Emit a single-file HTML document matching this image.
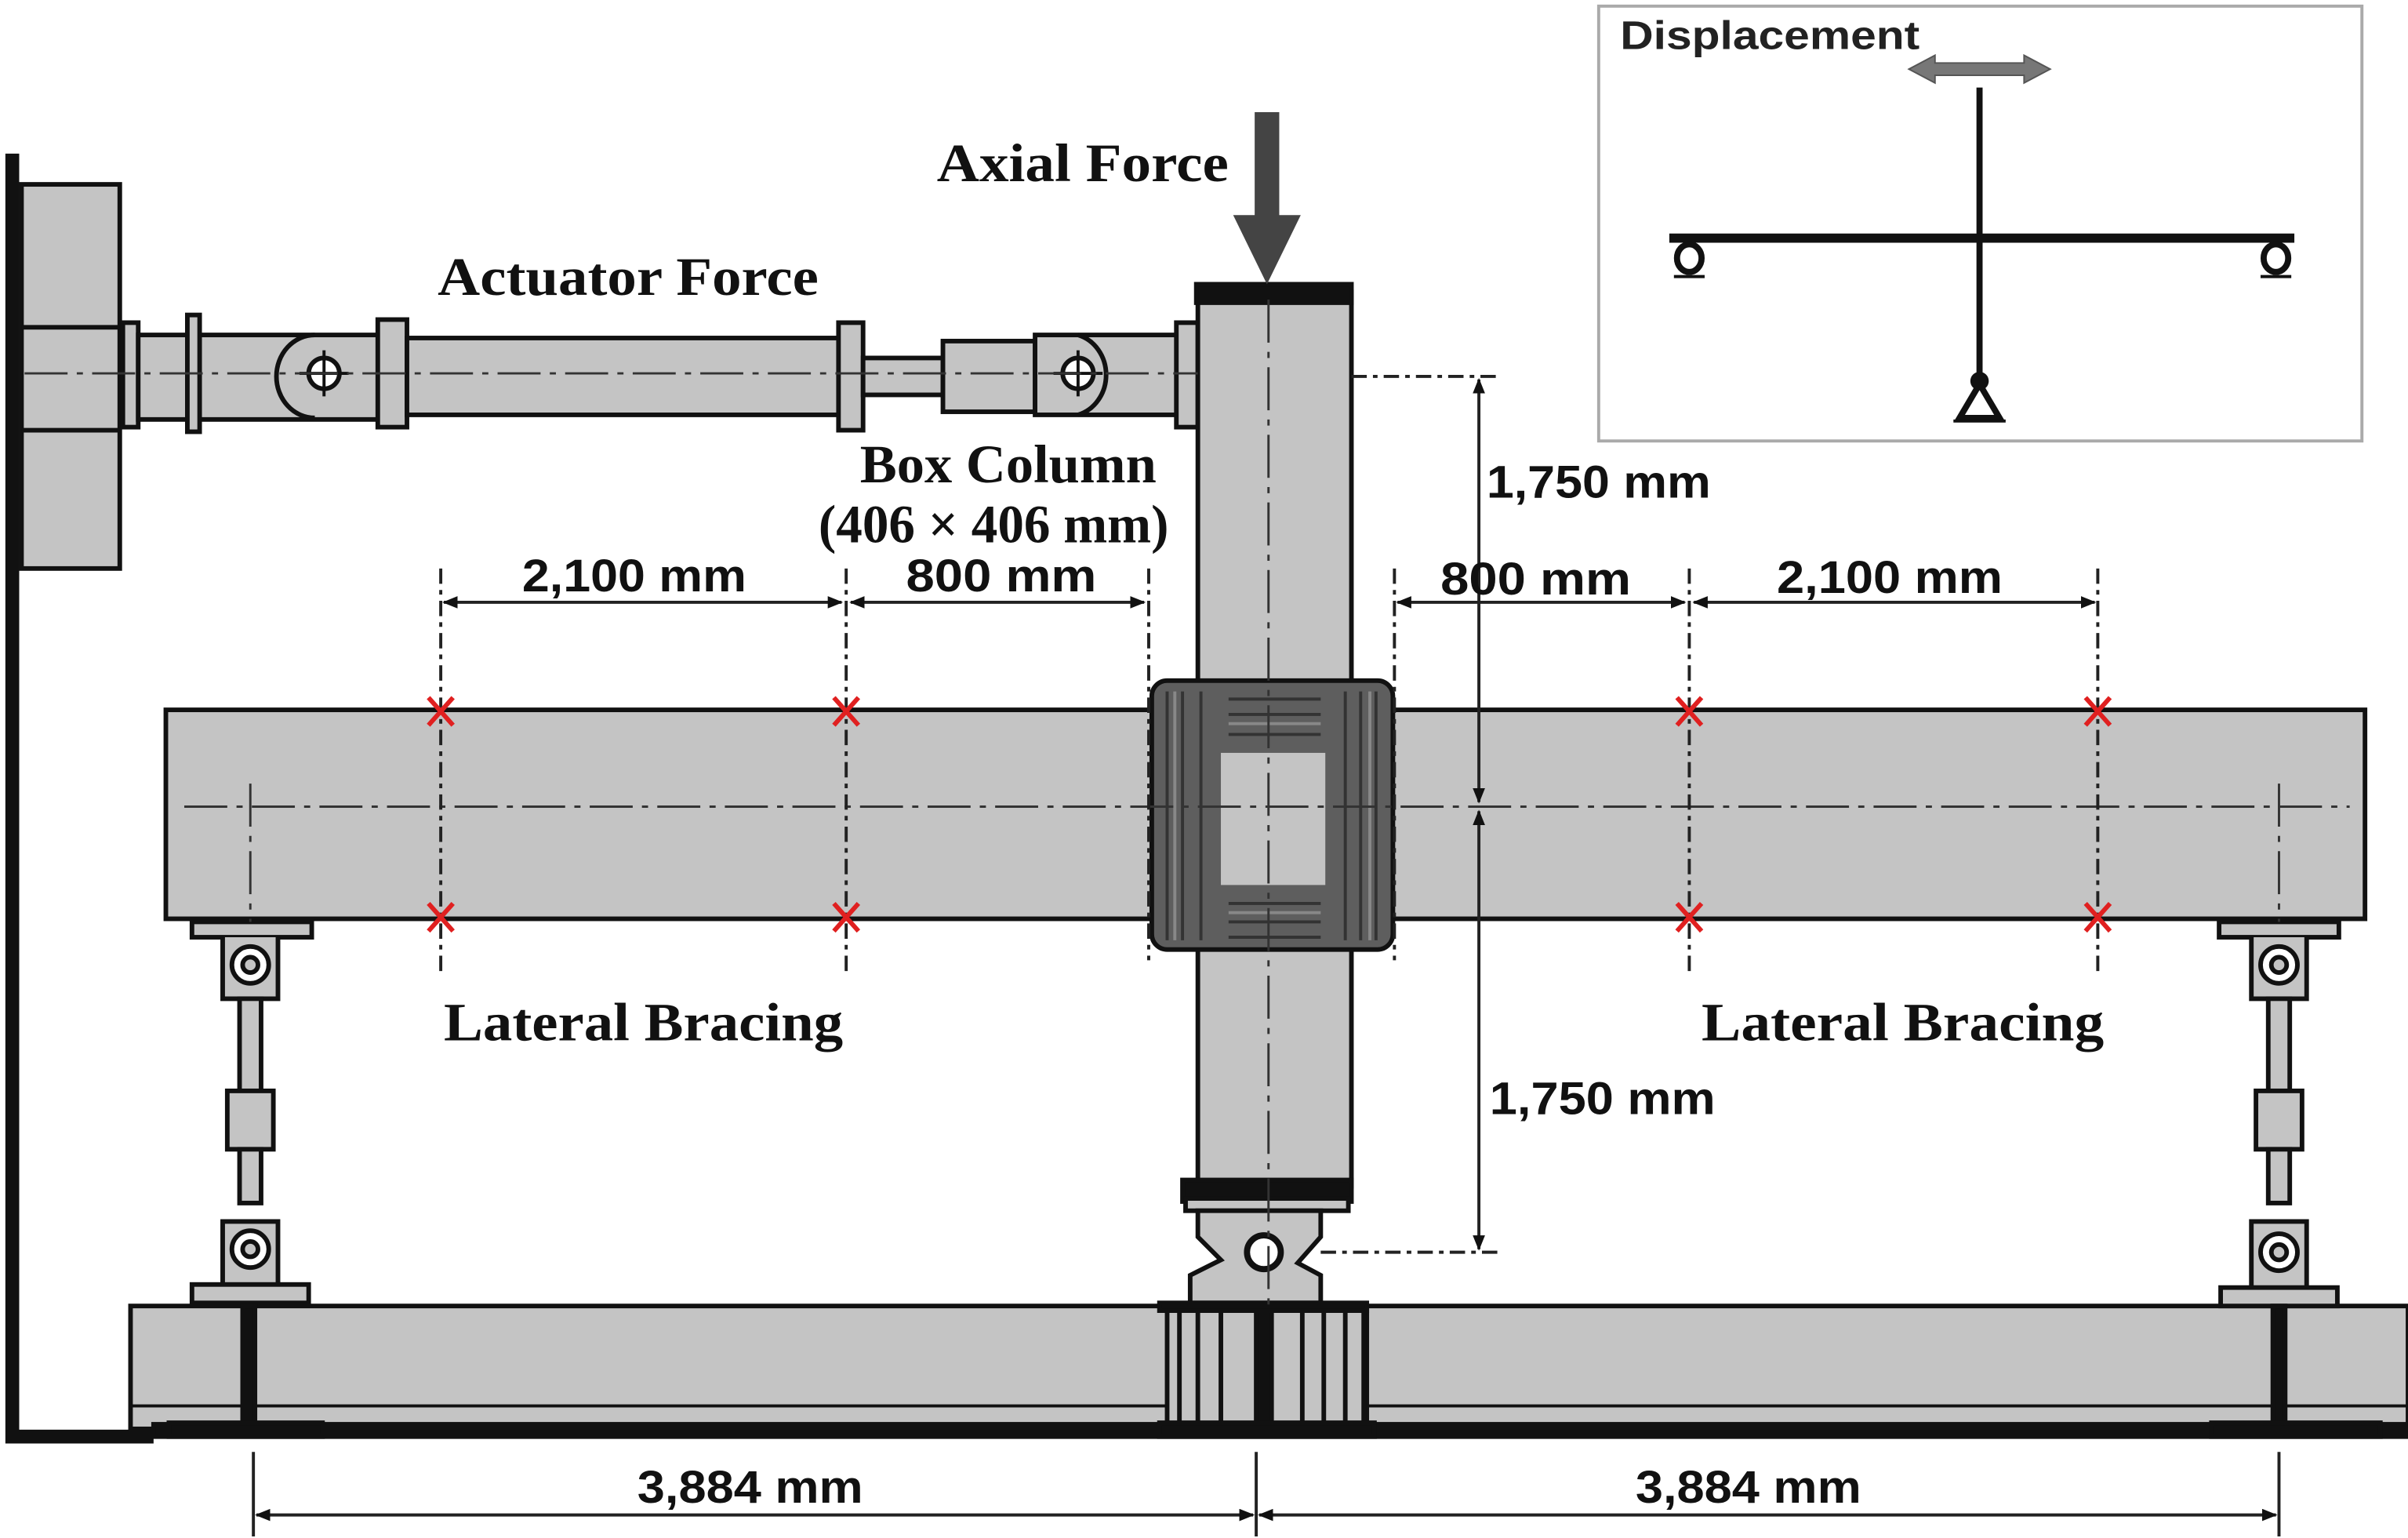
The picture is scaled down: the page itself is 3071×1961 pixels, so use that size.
<!DOCTYPE html>
<html><head><meta charset="utf-8"><style>
html,body{margin:0;padding:0;background:#fff;}
svg{display:block;}
.s{font-family:"Liberation Serif",serif;font-weight:bold;font-size:35px;fill:#111;}
.d{font-family:"Liberation Sans",sans-serif;font-weight:bold;font-size:30px;fill:#111;}
</style></head><body>
<svg width="3071" height="1961" viewBox="0 0 1568 1001" preserveAspectRatio="none" xmlns="http://www.w3.org/2000/svg">
<defs>
<marker id="a" markerWidth="10" markerHeight="8" refX="9" refY="4" orient="auto-start-reverse" markerUnits="userSpaceOnUse"><path d="M0,0 L10,4 L0,8 z" fill="#111"/></marker>
</defs>
<g stroke="#111" stroke-width="3" fill="#c4c4c4">
<path d="M8,100 V935 H100" fill="none" stroke-width="9"/>
<rect x="14" y="120" width="64" height="250"/>
<line x1="14" y1="213" x2="78" y2="213"/><line x1="14" y1="280" x2="78" y2="280"/>
<rect x="80" y="210" width="10" height="68"/>
<rect x="90" y="218" width="160" height="55"/>
<rect x="122" y="205" width="8" height="76"/>
<rect x="246" y="208" width="19" height="70"/>
<rect x="265" y="220" width="283" height="50"/>
<rect x="546" y="210" width="16" height="70"/>
<rect x="562" y="233" width="52" height="24"/>
<rect x="614" y="222" width="60" height="46"/>
<rect x="674" y="218" width="95" height="52"/>
<rect x="766" y="210" width="14" height="68"/>
<path d="M205,218 A25,27 0 0 0 205,272" fill="none"/>
<circle cx="211" cy="243" r="10" fill="#fff"/>
<path d="M702,218 A25,27 0 0 1 702,270" fill="none"/>
<circle cx="702" cy="243" r="10" fill="#fff"/>
<line x1="195" y1="243" x2="227" y2="243" stroke-width="2"/><line x1="211" y1="228" x2="211" y2="258" stroke-width="2"/>
<line x1="686" y1="243" x2="718" y2="243" stroke-width="2"/><line x1="702" y1="228" x2="702" y2="258" stroke-width="2"/>
<rect x="85" y="850" width="1483" height="80"/>
<line x1="85" y1="915" x2="1568" y2="915" stroke-width="2"/>
<rect x="100" y="927" width="1468" height="8" fill="#111"/>
<rect x="780" y="190" width="100" height="582"/>
<rect x="779" y="185" width="101" height="12" fill="#111"/>
<rect x="108" y="462" width="1432" height="136"/>
<rect x="750" y="443" width="157" height="175" rx="10" fill="#5e5e5e"/>
<rect x="795" y="490" width="68" height="86" fill="#c4c4c4" stroke="none"/>
<g stroke="#333" stroke-width="2" fill="none">
<line x1="760" y1="450" x2="760" y2="612"/><line x1="770" y1="450" x2="770" y2="612"/><line x1="782" y1="450" x2="782" y2="612"/>
<line x1="876" y1="450" x2="876" y2="612"/><line x1="886" y1="450" x2="886" y2="612"/><line x1="896" y1="450" x2="896" y2="612"/>
<line x1="800" y1="455" x2="860" y2="455"/><line x1="800" y1="465" x2="860" y2="465"/><line x1="800" y1="478" x2="860" y2="478"/>
<line x1="800" y1="588" x2="860" y2="588"/><line x1="800" y1="600" x2="860" y2="600"/><line x1="800" y1="610" x2="860" y2="610"/>
</g>
<g stroke="#888" stroke-width="2" fill="none">
<line x1="765" y1="450" x2="765" y2="612"/><line x1="892" y1="450" x2="892" y2="612"/>
<line x1="800" y1="471" x2="860" y2="471"/><line x1="800" y1="594" x2="860" y2="594"/>
</g>
<rect x="770" y="768" width="110" height="14" fill="#111"/>
<rect x="772" y="780" width="106" height="8"/>
<path d="M780,788 V805 L795,820 L775,830 V848 H860 V830 L845,822 L860,805 V788 Z"/>
<circle cx="823" cy="815" r="11" fill="#fff" stroke-width="4"/>
<rect x="760" y="850" width="130" height="80" fill="#c4c4c4"/>
<g stroke-width="3"><line x1="768" y1="850" x2="768" y2="928"/><line x1="780" y1="850" x2="780" y2="928"/><line x1="795" y1="850" x2="795" y2="928"/><line x1="848" y1="850" x2="848" y2="928"/><line x1="862" y1="850" x2="862" y2="928"/><line x1="876" y1="850" x2="876" y2="928"/><line x1="888" y1="850" x2="888" y2="928"/></g>
<rect x="818" y="850" width="10" height="80" fill="#111"/>
<rect x="755" y="848" width="135" height="5" fill="#111"/>
<rect x="755" y="926" width="140" height="9" fill="#111"/>
<rect x="125" y="600" width="78" height="10"/>
<path d="M145,610 V650 H181 V610" />
<circle cx="163" cy="628" r="12" fill="#fff"/><circle cx="163" cy="628" r="5" fill="#c4c4c4"/>
<rect x="156" y="650" width="14" height="60"/>
<rect x="148" y="710" width="30" height="38"/>
<rect x="156" y="748" width="14" height="35"/>
<path d="M145,840 V795 H181 V840"/>
<circle cx="163" cy="813" r="12" fill="#fff"/><circle cx="163" cy="813" r="5" fill="#c4c4c4"/>
<rect x="125" y="836" width="76" height="12"/>
<rect x="158" y="850" width="8" height="80" fill="#111"/>
<rect x="110" y="926" width="100" height="9" fill="#111"/>
<rect x="1445" y="600" width="78" height="10"/>
<path d="M1466,610 V650 H1502 V610"/>
<circle cx="1484" cy="628" r="12" fill="#fff"/><circle cx="1484" cy="628" r="5" fill="#c4c4c4"/>
<rect x="1477" y="650" width="14" height="60"/>
<rect x="1469" y="710" width="30" height="38"/>
<rect x="1477" y="748" width="14" height="35"/>
<path d="M1466,840 V795 H1502 V840"/>
<circle cx="1484" cy="815" r="12" fill="#fff"/><circle cx="1484" cy="815" r="5" fill="#c4c4c4"/>
<rect x="1446" y="838" width="76" height="12"/>
<rect x="1480" y="850" width="8" height="80" fill="#111"/>
<rect x="1440" y="926" width="110" height="9" fill="#111"/>
</g>
<g stroke="#333" stroke-width="1.5" stroke-dasharray="28,6,4,6" fill="none">
<line x1="16" y1="243" x2="780" y2="243"/>
<line x1="120" y1="525" x2="1530" y2="525"/>
<line x1="826" y1="195" x2="826" y2="850"/>
<line x1="163" y1="510" x2="163" y2="600"/>
<line x1="1484" y1="510" x2="1484" y2="600"/>
</g>
<g stroke="#222" stroke-width="2" stroke-dasharray="10,4,3,4" fill="none">
<line x1="287" y1="370" x2="287" y2="635"/><line x1="551" y1="370" x2="551" y2="635"/><line x1="748" y1="370" x2="748" y2="625"/>
<line x1="908" y1="370" x2="908" y2="625"/><line x1="1100" y1="370" x2="1100" y2="635"/><line x1="1366" y1="370" x2="1366" y2="635"/>
<line x1="880" y1="245" x2="975" y2="245"/><line x1="860" y1="815" x2="975" y2="815"/>
</g>
<g stroke="#222" stroke-width="2" fill="none">
<line x1="289" y1="392" x2="548" y2="392" marker-start="url(#a)" marker-end="url(#a)"/>
<line x1="554" y1="392" x2="745" y2="392" marker-start="url(#a)" marker-end="url(#a)"/>
<line x1="910" y1="392" x2="1097" y2="392" marker-start="url(#a)" marker-end="url(#a)"/>
<line x1="1103" y1="392" x2="1364" y2="392" marker-start="url(#a)" marker-end="url(#a)"/>
<line x1="963" y1="247" x2="963" y2="522" marker-start="url(#a)" marker-end="url(#a)"/>
<line x1="963" y1="528" x2="963" y2="813" marker-start="url(#a)" marker-end="url(#a)"/>
<line x1="167" y1="986" x2="816" y2="986" marker-start="url(#a)" marker-end="url(#a)"/>
<line x1="820" y1="986" x2="1482" y2="986" marker-start="url(#a)" marker-end="url(#a)"/>
<line x1="165" y1="945" x2="165" y2="1000"/><line x1="818" y1="945" x2="818" y2="1000"/><line x1="1484" y1="945" x2="1484" y2="1000"/>
</g>
<g stroke="#e02020" stroke-width="3">
<path d="M279,454 L295,472 M295,454 L279,472"/><path d="M543,454 L559,472 M559,454 L543,472"/>
<path d="M1092,454 L1108,472 M1108,454 L1092,472"/><path d="M1358,454 L1374,472 M1374,454 L1358,472"/>
<path d="M279,588 L295,606 M295,588 L279,606"/><path d="M543,588 L559,606 M559,588 L543,606"/>
<path d="M1092,588 L1108,606 M1108,588 L1092,606"/><path d="M1358,588 L1374,606 M1374,588 L1358,606"/>
</g>
<rect x="817" y="73" width="16" height="70" fill="#444"/>
<path d="M803,140 L847,140 L825,185 Z" fill="#444"/>
<rect x="1041" y="4" width="497" height="283" fill="#fff" stroke="#aaa" stroke-width="2"/>
<text x="1055" y="32" font-family="Liberation Sans,sans-serif" font-size="26" font-weight="bold" fill="#222" textLength="195" lengthAdjust="spacingAndGlyphs">Displacement</text>
<path d="M1243,45 L1260,36 V41 H1318 V36 L1335,45 L1318,54 V49 H1260 V54 Z" fill="#777" stroke="#555"/>
<g stroke="#111" fill="none">
<line x1="1289" y1="57" x2="1289" y2="250" stroke-width="4"/>
<line x1="1087" y1="155" x2="1494" y2="155" stroke-width="6"/>
<ellipse cx="1100" cy="168" rx="8" ry="9" stroke-width="4"/>
<ellipse cx="1482" cy="168" rx="8" ry="9" stroke-width="4"/>
<line x1="1090" y1="180" x2="1110" y2="180" stroke-width="2"/>
<line x1="1472" y1="180" x2="1492" y2="180" stroke-width="2"/>
<path d="M1289,250 L1276,272 H1302 Z" stroke-width="4"/>
<line x1="1272" y1="274" x2="1306" y2="274" stroke-width="2"/>
</g>
<circle cx="1289" cy="248" r="6" fill="#111"/>
<g lengthAdjust="spacingAndGlyphs">
<text class="s" x="610" y="118" textLength="190" lengthAdjust="spacingAndGlyphs">Axial Force</text>
<text class="s" x="285" y="192" textLength="248" lengthAdjust="spacingAndGlyphs">Actuator Force</text>
<text class="s" x="560" y="314" textLength="193" lengthAdjust="spacingAndGlyphs">Box Column</text>
<text class="s" x="533" y="353" textLength="228" lengthAdjust="spacingAndGlyphs">(406 × 406 mm)</text>
<text class="s" x="289" y="677" textLength="260" lengthAdjust="spacingAndGlyphs">Lateral Bracing</text>
<text class="s" x="1108" y="677" textLength="262" lengthAdjust="spacingAndGlyphs">Lateral Bracing</text>
<text class="d" x="968" y="324" textLength="146" lengthAdjust="spacingAndGlyphs">1,750 mm</text>
<text class="d" x="970" y="725" textLength="147" lengthAdjust="spacingAndGlyphs">1,750 mm</text>
<text class="d" x="340" y="385" textLength="146" lengthAdjust="spacingAndGlyphs">2,100 mm</text>
<text class="d" x="590" y="385" textLength="124" lengthAdjust="spacingAndGlyphs">800 mm</text>
<text class="d" x="938" y="387" textLength="124" lengthAdjust="spacingAndGlyphs">800 mm</text>
<text class="d" x="1157" y="386" textLength="147" lengthAdjust="spacingAndGlyphs">2,100 mm</text>
<text class="d" x="415" y="978" textLength="147" lengthAdjust="spacingAndGlyphs">3,884 mm</text>
<text class="d" x="1065" y="978" textLength="147" lengthAdjust="spacingAndGlyphs">3,884 mm</text>
</g>
</svg>
</body></html>
